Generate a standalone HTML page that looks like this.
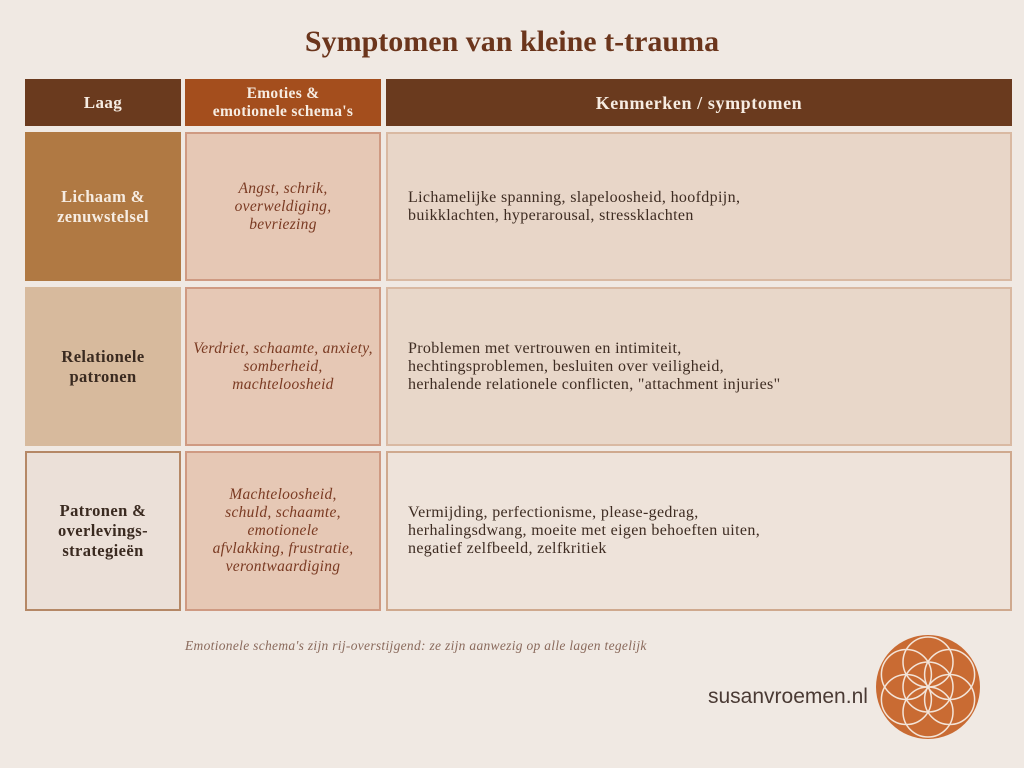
<!DOCTYPE html>
<html><head><meta charset="utf-8"><style>
html,body{margin:0;padding:0}
body{width:1024px;height:768px;background:#f0e9e3;position:relative;overflow:hidden;font-family:"Liberation Serif",serif}
.c{position:absolute;box-sizing:border-box;display:flex;align-items:center;justify-content:center;text-align:center}
.h{color:#f6ece2;font-weight:bold;font-size:16px;line-height:18px;letter-spacing:.4px}
.l{font-weight:bold;font-size:16.5px;line-height:20px;letter-spacing:.4px}
.e{font-style:italic;font-size:15.5px;line-height:18px;letter-spacing:.3px;color:#7a3a22;border:2px solid #cf9a82;background:#e6c8b5}
.k{justify-content:flex-start;text-align:left;padding-left:20px;font-size:16px;line-height:18px;letter-spacing:.35px;color:#3e2c22;border:2px solid #d9b9a2}
</style></head><body>
<div style="position:absolute;left:0;width:1024px;top:25px;text-align:center;font-weight:bold;font-size:30px;color:#6b351c">Symptomen van kleine t-trauma</div>

<div class="c h" style="left:25px;top:79px;width:156px;height:47px;background:#6a3a1e;font-size:17px">Laag</div>
<div class="c h" style="left:185px;top:79px;width:196px;height:47px;background:#a44e1d;font-size:15.5px;letter-spacing:.3px">Emoties &amp;<br>emotionele schema's</div>
<div class="c h" style="left:386px;top:79px;width:626px;height:47px;background:#6a3a1e;font-size:18px;letter-spacing:.6px">Kenmerken / symptomen</div>

<div class="c l" style="left:25px;top:132px;width:156px;height:149px;background:#b07943;color:#f6ece2">Lichaam &amp;<br>zenuwstelsel</div>
<div class="c e" style="left:185px;top:132px;width:196px;height:149px">Angst, schrik,<br>overweldiging,<br>bevriezing</div>
<div class="c k" style="left:386px;top:132px;width:626px;height:149px;background:#e8d6c8">Lichamelijke spanning, slapeloosheid, hoofdpijn,<br>buikklachten, hyperarousal, stressklachten</div>

<div class="c l" style="left:25px;top:287px;width:156px;height:159px;background:#d7ba9d;color:#3a2a20">Relationele<br>patronen</div>
<div class="c e" style="left:185px;top:287px;width:196px;height:159px">Verdriet, schaamte, anxiety,<br>somberheid,<br>machteloosheid</div>
<div class="c k" style="left:386px;top:287px;width:626px;height:159px;background:#e8d7c9">Problemen met vertrouwen en intimiteit,<br>hechtingsproblemen, besluiten over veiligheid,<br>herhalende relationele conflicten, "attachment injuries"</div>

<div class="c l" style="left:25px;top:451px;width:156px;height:160px;background:#ebe0d8;color:#3a2a20;border:2px solid #b58866">Patronen &amp;<br>overlevings-<br>strategieën</div>
<div class="c e" style="left:185px;top:451px;width:196px;height:160px">Machteloosheid,<br>schuld, schaamte,<br>emotionele<br>afvlakking, frustratie,<br>verontwaardiging</div>
<div class="c k" style="left:386px;top:451px;width:626px;height:160px;background:#eee3da;border-color:#cfa98e">Vermijding, perfectionisme, please-gedrag,<br>herhalingsdwang, moeite met eigen behoeften uiten,<br>negatief zelfbeeld, zelfkritiek</div>

<div style="position:absolute;left:185px;top:638px;font-style:italic;font-size:13.5px;letter-spacing:.3px;color:#8a6a5c">Emotionele schema's zijn rij-overstijgend: ze zijn aanwezig op alle lagen tegelijk</div>

<div style="position:absolute;left:708px;top:685px;font-family:'Liberation Sans',sans-serif;font-size:21px;color:#4a3a34">susanvroemen.nl</div>
<svg style="position:absolute;left:874px;top:633px" width="108" height="108" viewBox="0 0 108 108">
<circle cx="54" cy="54" r="52" fill="#c96b33"/>
<g fill="none" stroke="#f3e4d8" stroke-width="1.5">
<circle cx="54" cy="54" r="25"/>
<circle cx="54" cy="29" r="25"/><circle cx="54" cy="79" r="25"/>
<circle cx="75.6" cy="41.5" r="25"/><circle cx="32.4" cy="41.5" r="25"/>
<circle cx="75.6" cy="66.5" r="25"/><circle cx="32.4" cy="66.5" r="25"/>
</g></svg>
</body></html>
